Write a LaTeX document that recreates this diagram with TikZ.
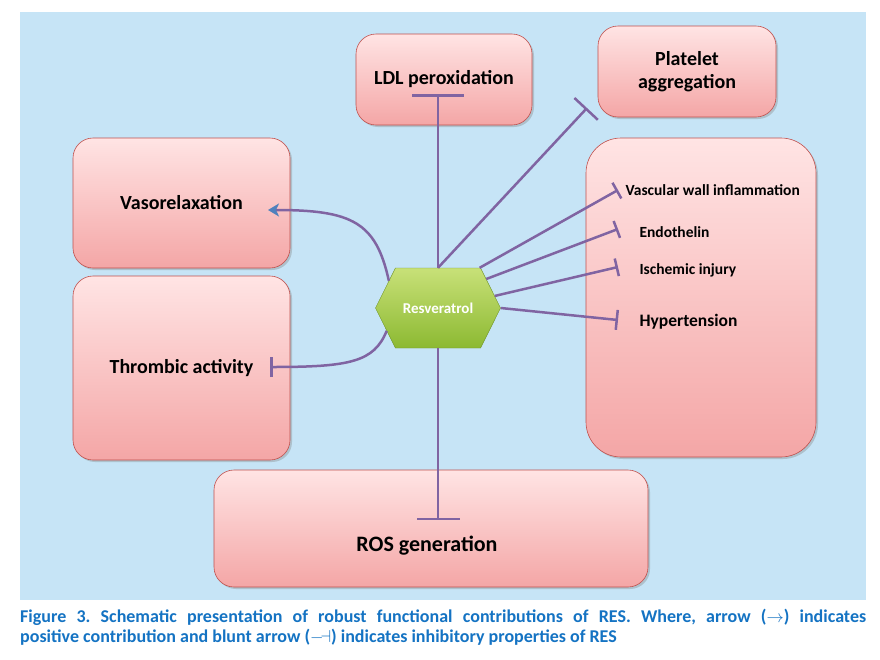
\documentclass[tikz,border=0pt]{standalone}
\usepackage{fontspec}
\setmainfont{Carlito}
\newfontfamily\capfont{Carlito Bold}
\usepackage{xcolor}
\usetikzlibrary{arrows.meta,shapes.symbols,shadows}

\definecolor{skyblue}{RGB}{198,228,246}
\definecolor{pinktop}{RGB}{255,228,228}
\definecolor{pinkbot}{RGB}{244,166,166}
\definecolor{pinkedge}{RGB}{192,80,77}
\definecolor{linepurple}{RGB}{128,100,162}
\definecolor{tipblue}{RGB}{79,129,189}
\definecolor{hexgreen}{RGB}{140,185,50}
\definecolor{hextop}{RGB}{200,225,120}
\definecolor{capblue}{RGB}{20,115,195}

\begin{document}
\frenchspacing
\begin{tikzpicture}[x=1pt,y=-1pt,
    box/.style={draw=pinkedge, line width=0.6pt, rounded corners=20pt,
      top color=pinktop, bottom color=pinkbot, inner sep=0pt, align=center,
      font=\bfseries\fontsize{20}{23}\selectfont,
      drop shadow={shadow xshift=2pt, shadow yshift=-2pt, opacity=0.35}},
    item/.style={anchor=west, font=\bfseries\fontsize{15.5}{18}\selectfont},
    hexa/.style={shape=signal, signal to=west and east, signal pointer angle=127,
      minimum width=125pt, minimum height=80pt, inner sep=0pt,
      draw=hexgreen!80!black, top color=hextop, bottom color=hexgreen, text=white,
      font=\bfseries\fontsize{15}{17}\selectfont},
    link/.style={linepurple, line width=2.5pt},
    blunt/.style={link, -{Bar[width=#1]}}]
\fill[white] (0,0) rectangle (880,659);
\useasboundingbox (0,0) rectangle (880,659);
\fill[skyblue] (20,12) rectangle (866,600);

% boxes
\node[box, minimum width=176pt, minimum height=91pt] (ldl) at (444,79.5) {LDL peroxidation};
\node[box, minimum width=178pt, minimum height=91pt] (plat) at (687,71.5) {Platelet\\aggregation};
\node[box, minimum width=217pt, minimum height=130pt] (vaso) at (181.5,203) {Vasorelaxation};
\node[box, minimum width=217pt, minimum height=184pt] (throm) at (181.5,368) {Thrombic activity};
\node[box, rounded corners=35pt, minimum width=230pt, minimum height=319pt] (vasc) at (701,297.5) {};
\node[box, minimum width=434pt, minimum height=117pt] (ros) at (431,528.5) {};
\node[font=\bfseries\fontsize{22}{25}\selectfont] (rostext) at (427,546) {ROS generation};

\node[item] (vwi) at (622,190) {Vascular wall inflammation};
\node[item] (endo) at (636,232) {Endothelin};
\node[item] (isch) at (636,270) {Ischemic injury};
\node[item, font=\bfseries\fontsize{17.5}{20}\selectfont] (hyp) at (636,322) {Hypertension};

\node[hexa] (res) at (438,308) {Resveratrol};

% end points
\coordinate (ldlend) at (438,94);
\coordinate (platend) at (587,108);
\coordinate (vwiend) at (618,190);
\coordinate (endoend) at (618,229);
\coordinate (ischend) at (618,267);
\coordinate (hypend) at (618,320);
\coordinate (rosend) at (438,520);
\coordinate (vasoend) at (268,210);
\coordinate (thromend) at (270,367);

\draw[blunt=52pt] (res.north) -- (ldlend);
\draw[blunt=32pt] (res.north) -- (platend);
\draw[blunt=18pt] (res.44) -- (vwiend);
\draw[blunt=18pt] (res.31) -- (endoend);
\draw[blunt=18pt] (res.12) -- (ischend);
\draw[blunt=20pt] (res.east) -- (hypend);
\draw[blunt=43pt] (res.south) -- (rosend);
\draw[link, -{Stealth[color=tipblue, length=11pt, width=13pt, inset=3pt]}]
  (res.151) .. controls (376,222) and (352,210) .. (vasoend);
\draw[blunt=20pt] (res.204) .. controls (374,362) and (350,367) .. (thromend);

\node[anchor=north west, inner sep=0pt, text width=846pt, align=justify, text=capblue,
  font=\capfont\fontsize{18}{20}\selectfont] (caption) at (20,609)
  {Figure 3. Schematic presentation of robust functional contributions of RES. Where, arrow ($\rightarrow$) indicates\linebreak
   positive contribution and blunt arrow ($\relbar\joinrel\dashv$) indicates inhibitory properties of RES};
\end{tikzpicture}
\end{document}
